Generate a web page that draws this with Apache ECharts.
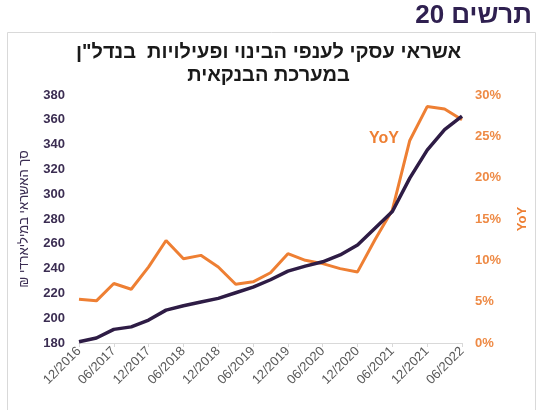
<!DOCTYPE html>
<html>
<head>
<meta charset="utf-8">
<script src="https://cdn.jsdelivr.net/npm/echarts@6/dist/echarts.min.js"></script>
<style>
  html, body { margin: 0; padding: 0; background: #fff; }
  #chart { width: 537px; height: 410px; }
</style>
</head>
<body>
<div id="chart"></div>
<script>
// quarterly points, labels shown every half year
const categories = [
  '12/2016', '03/2017', '06/2017', '09/2017', '12/2017', '03/2018', '06/2018', '09/2018',
  '12/2018', '03/2019', '06/2019', '09/2019', '12/2019', '03/2020', '06/2020', '09/2020',
  '12/2020', '03/2021', '06/2021', '09/2021', '12/2021', '03/2022', '06/2022'
];

// סך האשראי, מיליארדי ₪
const creditBn = [
  181, 184, 191, 193, 198.5, 206.5, 210, 213, 216, 220.5, 225, 231,
  238, 242, 245.5, 251, 259, 272.5, 286, 313, 335.5, 352, 363
];

// שיעור שינוי שנתי, %
const yoyPct = [
  5.3, 5.1, 7.2, 6.5, 9.2, 12.4, 10.2, 10.6, 9.2, 7.1, 7.4, 8.5,
  10.8, 10.0, 9.6, 9.0, 8.6, 12.5, 16.1, 24.5, 28.6, 28.3, 27.0
];

const leftTicks = { min: 180, max: 380, step: 20 };
const rightTicks = { min: 0, max: 30, step: 5 };

const PURPLE = '#2e1c45';
const ORANGE = '#ee7f33';
const HEB = '"Liberation Sans", Arial, "DejaVu Sans", sans-serif';

const chart = echarts.init(document.getElementById('chart'));

const option = {
  animation: false,
  backgroundColor: '#fff',
  grid: { left: 79, right: 67, top: 95, bottom: 67 },
  graphic: [
    {
      type: 'rect',
      shape: { x: 7.5, y: 32.5, width: 528, height: 390 },
      style: { fill: 'none', stroke: '#d9d9d9', lineWidth: 1 },
      silent: true
    },
    {
      type: 'text',
      right: 5,
      top: 3,
      style: { text: '20 תרשים', font: 'bold 26px ' + HEB, fill: '#2f2050' }
    },
    {
      type: 'text',
      left: 'center',
      top: 42,
      style: {
        text: 'אשראי עסקי לענפי הבינוי ופעילויות  בנדל"ן',
        font: 'bold 20px ' + HEB,
        fill: '#1a1a1a'
      }
    },
    {
      type: 'text',
      left: 'center',
      top: 65,
      style: { text: 'במערכת הבנקאית', font: 'bold 20px ' + HEB, fill: '#1a1a1a' }
    },
    {
      type: 'text',
      x: 384,
      y: 139,
      style: {
        text: 'YoY',
        font: 'bold 16px ' + HEB,
        fill: ORANGE,
        align: 'center',
        verticalAlign: 'middle'
      }
    }
  ],
  xAxis: {
    type: 'category',
    data: categories,
    boundaryGap: false,
    axisLine: { lineStyle: { color: '#d9d9d9', width: 1 } },
    axisTick: { interval: 1, length: 4, lineStyle: { color: '#d9d9d9' } },
    axisLabel: {
      interval: 1,
      rotate: 45,
      margin: 6,
      color: '#595959',
      fontFamily: HEB,
      fontSize: 13
    },
    splitLine: { show: false }
  },
  yAxis: [
    {
      type: 'value',
      min: leftTicks.min,
      max: leftTicks.max,
      interval: leftTicks.step,
      name: '₪ סך האשראי במיליארדי',
      nameLocation: 'middle',
      nameRotate: 90,
      nameGap: 48,
      nameTextStyle: { color: '#3b2d52', fontFamily: HEB, fontSize: 13 },
      axisLine: { show: false },
      axisTick: { show: false },
      splitLine: { show: false },
      axisLabel: {
        margin: 14,
        color: '#3b2d52',
        fontWeight: 'bold',
        fontFamily: HEB,
        fontSize: 13
      }
    },
    {
      type: 'value',
      position: 'right',
      min: rightTicks.min,
      max: rightTicks.max,
      interval: rightTicks.step,
      name: 'YoY',
      nameLocation: 'middle',
      nameRotate: 90,
      nameGap: 54,
      nameTextStyle: { color: ORANGE, fontWeight: 'bold', fontFamily: HEB, fontSize: 13 },
      axisLine: { show: false },
      axisTick: { show: false },
      splitLine: { show: false },
      axisLabel: {
        margin: 13,
        formatter: '{value}%',
        color: '#ee8a45',
        fontWeight: 'bold',
        fontFamily: HEB,
        fontSize: 13
      }
    }
  ],
  series: [
    {
      name: 'YoY',
      type: 'line',
      yAxisIndex: 1,
      data: yoyPct,
      showSymbol: false,
      lineStyle: { color: ORANGE, width: 3 },
      z: 2
    },
    {
      name: 'credit',
      type: 'line',
      yAxisIndex: 0,
      data: creditBn,
      showSymbol: false,
      lineStyle: { color: PURPLE, width: 3.5 },
      z: 3
    }
  ]
};

chart.setOption(option);
</script>
</body>
</html>
